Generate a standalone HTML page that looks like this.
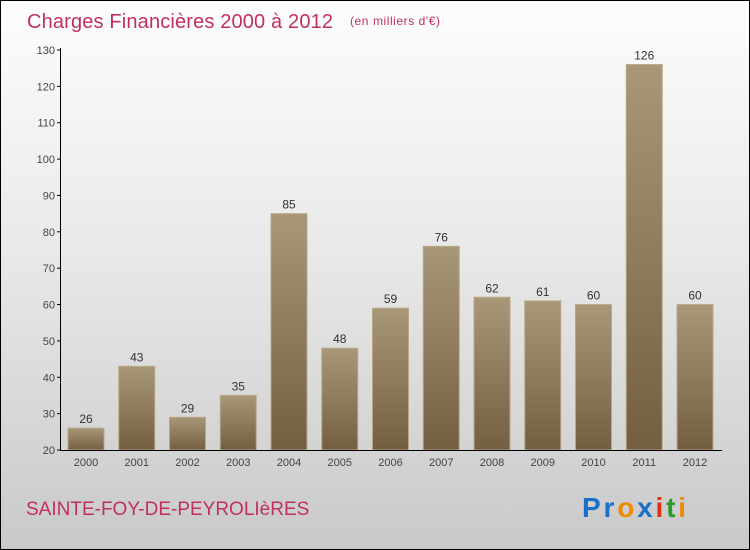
<!DOCTYPE html>
<html><head><meta charset="utf-8"><style>
html,body{margin:0;padding:0}
body{width:750px;height:550px;overflow:hidden;font-family:"Liberation Sans",sans-serif}
#wrap{position:absolute;left:0;top:0;width:748px;height:548px;border:1px solid #000;background:linear-gradient(#fdfdfd,#e9e9e9 45%,#c9c9c9)}
</style></head><body>
<div id="wrap">
<svg width="750" height="550" style="position:absolute;left:-1px;top:-1px">
<defs><linearGradient id="bg" x1="0" y1="0" x2="0" y2="1"><stop offset="0" stop-color="#a89878"/><stop offset="1" stop-color="#735f3f"/></linearGradient></defs>
<text x="27" y="28" font-size="20" textLength="306" fill="#c0305e">Charges Financières 2000 à 2012</text>
<text x="350" y="25" font-size="12" textLength="90" fill="#c0305e">(en milliers d'€)</text>
<g id="g"></g>
<text x="26" y="515" font-size="19" fill="#c0305e">SAINTE-FOY-DE-PEYROLIèRES</text>
<g font-size="28" font-weight="bold"><text x="582" y="517" textLength="104"><tspan fill="#1a6fc9">Pr</tspan><tspan fill="#f08a00">o</tspan><tspan fill="#1a6fc9">x</tspan><tspan fill="#e03010">i</tspan><tspan fill="#2a9a2a">t</tspan><tspan fill="#f08a00">i</tspan></text></g>
</svg>
</div>
<script>
const categories=["2000","2001","2002","2003","2004","2005","2006","2007","2008","2009","2010","2011","2012"];
const values=[26,43,29,35,85,48,59,76,62,61,60,126,60];
const yTicks=[20,30,40,50,60,70,80,90,100,110,120,130];
const NS="http://www.w3.org/2000/svg";
const g=document.getElementById('g');
const y=v=>450-(v-20)*400/110;
const xc=i=>86+i*50.75;
function mk(t,a){const e=document.createElementNS(NS,t);for(const k in a)e.setAttribute(k,a[k]);g.appendChild(e);return e;}
yTicks.forEach(t=>{
  const l=mk('line',{x1:57,x2:61,y1:y(t),y2:y(t),stroke:'#000'});
  
  
  const tx=mk('text',{x:55,y:y(t)+4,'font-size':11,fill:'#444','text-anchor':'end'});tx.textContent=t;
  
  
});
categories.forEach((c,i)=>{
  const v=values[i];
  const r=mk('rect',{x:xc(i)-18,y:y(v),width:36,height:450-y(v),fill:'url(#bg)',stroke:'#b8a888','stroke-width':1});
  
  
  const vl=mk('text',{x:xc(i),y:y(v)-5,'font-size':12,fill:'#333','text-anchor':'middle'});vl.textContent=v;
  
  
  const xl=mk('text',{x:xc(i),y:466,'font-size':11,fill:'#444','text-anchor':'middle'});xl.textContent=c;
  
  
});
const ya=mk('line',{x1:60.5,x2:60.5,y1:48,y2:451,stroke:'#000'});


const xa=mk('line',{x1:60,x2:722,y1:450.5,y2:450.5,stroke:'#000'});


</script>
</body></html>
